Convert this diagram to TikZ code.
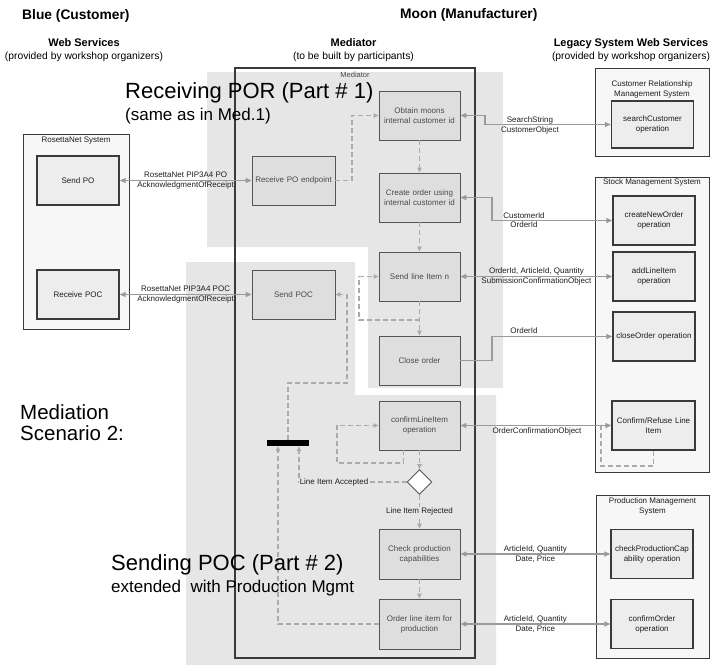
\documentclass[tikz,border=0pt]{standalone}
\usepackage{fontspec}
\setmainfont{Liberation Sans}
\usetikzlibrary{arrows.meta,shapes.geometric}
\definecolor{regiong}{HTML}{E6E6E6}
\definecolor{taskg}{HTML}{DEDEDE}
\definecolor{sysg}{HTML}{F7F7F7}
\definecolor{opg}{HTML}{EDEDED}
\definecolor{lineg}{HTML}{9A9A9A}
\definecolor{dashg}{HTML}{ABABAB}
\definecolor{bordg}{HTML}{555555}
\definecolor{darkb}{HTML}{3A3A3A}
\definecolor{txtg}{HTML}{4A4A4A}
\definecolor{darkt}{HTML}{1E1E1E}
\begin{document}
\begin{tikzpicture}[x=1pt,y=-1pt,
 taskbox/.style={draw=bordg,line width=0.9pt,fill=taskg,minimum width=82pt,minimum height=49pt,inner sep=1pt,align=center,text width=78pt,text=txtg,font=\fontsize{8}{10}\selectfont},
 opbox/.style={draw=darkb,line width=1.3pt,fill=opg,minimum width=82pt,minimum height=49pt,inner sep=1pt,align=center,text width=80pt,text=darkt,font=\fontsize{8}{10}\selectfont},
 sysbox/.style={draw=darkb,line width=1pt,fill=sysg,inner sep=0pt},
 systitle/.style={anchor=north,align=center,inner sep=0pt,text=darkt,font=\fontsize{8}{10}\selectfont},
 conn/.style={draw=lineg,line width=1.2pt},
 both/.style={conn,{Triangle[width=5pt,length=6pt]}-{Triangle[width=5pt,length=6pt]}},
 toward/.style={conn,-{Triangle[width=5pt,length=6pt]}},
 flow/.style={draw=dashg,line width=1.1pt,dash pattern=on 5pt off 3pt,-{Triangle[width=4.5pt,length=5pt]}},
 flowplain/.style={draw=dashg,line width=1.1pt,dash pattern=on 5pt off 3pt},
 lbl/.style={align=center,inner sep=0pt,text=darkt,font=\fontsize{8}{9.5}\selectfont},
 bigtxt/.style={anchor=base west,inner sep=0pt,font=\fontsize{22}{25}\selectfont},
 medtxt/.style={anchor=base west,inner sep=0pt,font=\fontsize{17}{20}\selectfont},
 scentxt/.style={anchor=base west,inner sep=0pt,align=left,font=\fontsize{20.5}{21}\selectfont},
 headtxt/.style={anchor=base west,inner sep=0pt,font=\fontsize{13.8}{16}\selectfont\bfseries},
 subhead/.style={anchor=base,inner sep=0pt,font=\fontsize{11}{13}\selectfont\bfseries},
 subnote/.style={anchor=base,inner sep=0pt,font=\fontsize{10.3}{12}\selectfont},
]
\useasboundingbox (0,0) rectangle (711,665);

% background regions
\fill[regiong] (207,72) -- (503,72) -- (503,388) -- (368,388) -- (368,247) -- (207,247) -- cycle;
\fill[regiong] (186,262) -- (355,262) -- (355,395) -- (496,395) -- (496,665) -- (186,665) -- cycle;

% headers
\node[headtxt] (hblue) at (22,19) {Blue (Customer)};
\node[headtxt] (hmoon) at (400,18.5) {Moon (Manufacturer)};
\node[subhead] (hws) at (84,46.5) {Web Services};
\node[subnote] (hwsn) at (84,59) {(provided by workshop organizers)};
\node[subhead] (hmed) at (353.5,46.5) {Mediator};
\node[subnote] (hmedn) at (353.5,59) {(to be built by participants)};
\node[subhead] (hleg) at (631,46.5) {Legacy System Web Services};
\node[subnote] (hlegn) at (631,59) {(provided by workshop organizers)};

% mediator container
\node[draw=darkb,line width=1.1pt,minimum width=240pt,minimum height=590pt,inner sep=0pt] (med) at (355,363) {};
\node[lbl,text=txtg,font=\fontsize{7.5}{9}\selectfont] (medlbl) at (355,75) {Mediator};

% left system
\node[sysbox,minimum width=106pt,minimum height=195pt] (ros) at (76,231.5) {};
\node[systitle] (rostitle) at (76,137) {RosettaNet System};
\node[opbox] (sendpo) at (78,180.5) {Send PO};
\node[opbox] (recpoc) at (78,294.5) {Receive POC};

% right systems
\node[sysbox,minimum width=114pt,minimum height=88pt] (crm) at (652,112) {};
\node[systitle] (crmtitle) at (652,80) {Customer Relationship\\Management System};
\node[opbox,minimum height=47pt] (searchc) at (652.5,124.5) {searchCustomer\\operation};

\node[sysbox,minimum width=114pt,minimum height=295pt] (stock) at (652,324.5) {};
\node[systitle] (stocktitle) at (652,178.5) {Stock Management System};
\node[opbox] (cno) at (654,220.5) {createNewOrder\\operation};
\node[opbox] (addli) at (654,276.5) {addLineItem\\operation};
\node[opbox] (closeop) at (654,336.5) {closeOrder operation};
\node[opbox,minimum width=83pt] (confref) at (653.5,425.5) {Confirm/Refuse Line\\Item};

\node[sysbox,minimum width=113pt,minimum height=163pt] (prod) at (652.5,576.5) {};
\node[systitle] (prodtitle) at (652.5,497.5) {Production Management\\System};
\node[opbox] (checkp) at (652,554) {checkProductionCap\\ability operation};
\node[opbox] (confo) at (652,624) {confirmOrder\\operation};

% mediator tasks
\node[taskbox,minimum width=83pt] (recpo) at (293.5,180.5) {Receive PO endpoint};
\node[taskbox,minimum width=83pt] (sendpoc) at (293.5,294.5) {Send POC};
\node[taskbox,minimum width=81pt] (obtain) at (419.5,115.5) {Obtain moons\\internal customer id};
\node[taskbox,minimum width=81pt] (create) at (419.5,197.5) {Create order using\\internal customer id};
\node[taskbox,minimum width=81pt] (sendline) at (419.5,276.5) {Send line Item n};
\node[taskbox,minimum width=81pt] (close) at (419.5,360.5) {Close order};
\node[taskbox,minimum width=81pt] (confirmli) at (419.5,425.5) {confirmLineItem\\operation};
\node[diamond,draw=bordg,line width=0.9pt,fill=white,minimum size=25pt,inner sep=0pt] (dia) at (419.5,482) {};
\node[taskbox,minimum width=81pt,minimum height=50pt] (check) at (419.5,554) {Check production\\capabilities};
\node[taskbox,minimum width=81pt,minimum height=50pt] (orderli) at (419.5,624) {Order line item for\\production};
\node[fill=black,minimum width=42pt,minimum height=6pt,inner sep=0pt] (bar) at (288,443) {};

% solid message connectors
\draw[both] (sendpo.east) -- (recpo.west)
  node[lbl,midway] (l1) {RosettaNet PIP3A4 PO\\AcknowledgmentOfReceipt};
\draw[both] (recpoc.east) -- (sendpoc.west)
  node[lbl,midway] (l2) {RosettaNet PIP3A4 POC\\AcknowledgmentOfReceipt};
\draw[both] (obtain.east) -- (485,115.5) |- (searchc.west);
\node[lbl] (l3) at (530,125.5) {SearchString\\CustomerObject};
\draw[both] (create.east) -- (492,197.5) |- (cno.west);
\node[lbl] (l4) at (524,220) {CustomerId\\OrderId};
\draw[both] (sendline.east) -- (addli.west)
  node[lbl,midway] (l5) {OrderId, ArticleId, Quantity\\SubmissionConfirmationObject};
\draw[toward] (close.east) -- (492,360.5) |- (closeop.west);
\node[lbl] (l6) at (524,331) {OrderId};
\draw[both] (confirmli.east) -- (confref.west);
\node[lbl] (l7) at (537,431) {OrderConfirmationObject};
\draw[both] (check.east) -- (checkp.west)
  node[lbl,midway] (l8) {ArticleId, Quantity\\Date, Price};
\draw[both] (orderli.east) -- (confo.west)
  node[lbl,midway] (l9) {ArticleId, Quantity\\Date, Price};

% dashed control flow
\draw[flow] (recpo.east) -- (352,180.5) |- (obtain.west);
\draw[flow] (obtain.south) -- (create.north);
\draw[flow] (create.south) -- (sendline.north);
\draw[flow] (sendline.south) -- (close.north);
\coordinate (lp) at (419.5,320);
\draw[flow] (lp) -| (359,276.5) -- (sendline.west);
\coordinate (fA) at (347,383);
\draw[flow] (bar.north) |- (fA) |- (sendpoc.east);
\draw[flow] ([xshift=-16pt]confirmli.south) |- (337,463) |- (confirmli.west);
\draw[flow] (confirmli.south) -- (dia.north);
\draw[flow] (dia.west) -| ([xshift=11pt]bar.south);
\node[lbl,fill=regiong,inner xsep=1pt] (acc) at (334,482) {Line Item Accepted};
\draw[flow] (dia.south) -- (check.north)
  node[lbl,midway,fill=regiong,inner ysep=1pt] (rej) {Line Item Rejected};
\draw[flow] (check.south) -- (orderli.north);
\draw[flow] (orderli.west) -| ([xshift=-10pt]bar.south);
\draw[flowplain] (confref.south) |- (601,466) -- (601,425.5);

% big captions
\node[bigtxt] (t1) at (125,98) {Receiving POR (Part \# 1)};
\node[medtxt] (t2) at (125,120) {(same as in Med.1)};
\node[scentxt,anchor=north west] (t3) at (20,404) {Mediation\\Scenario 2:};
\node[bigtxt] (t4) at (111,570) {Sending POC (Part \# 2)};
\node[medtxt] (t5) at (111,592) {extended~~with Production Mgmt};
\end{tikzpicture}
\end{document}
